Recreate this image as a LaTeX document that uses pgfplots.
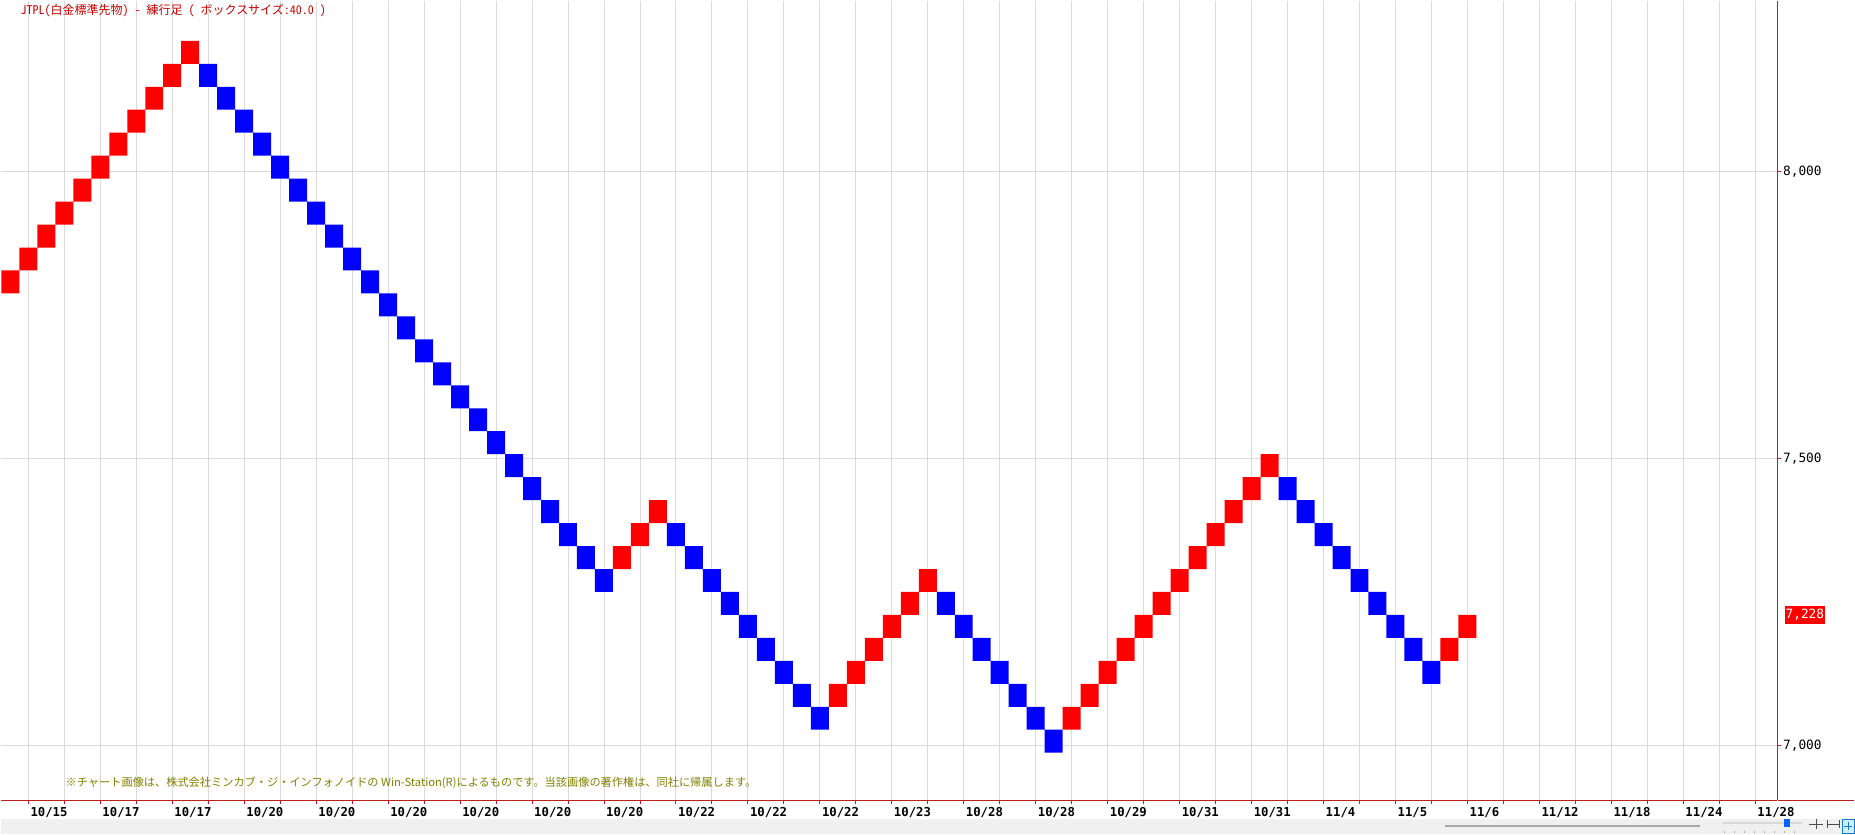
\documentclass[border=0pt]{standalone}
\usepackage{fontspec}
\usepackage{pgfplots}
\pgfplotsset{compat=1.18}
\usepackage{pgfplotstable}
\newfontfamily\jp{Noto Sans CJK JP}
\newfontfamily\jphw[RawFeature=+hwid]{Noto Sans CJK JP}
\newfontfamily\mono{DejaVu Sans Mono}
\definecolor{boxred}{RGB}{255,0,0}
\definecolor{boxblue}{RGB}{0,0,255}
\definecolor{axisred}{RGB}{190,30,30}
\definecolor{titlered}{RGB}{200,0,0}
\definecolor{noteolive}{RGB}{128,128,0}
\definecolor{gridgray}{RGB}{218,218,218}
\definecolor{bandgray}{RGB}{240,240,240}

% renko boxes: column, box low, height if up (red), height if down (blue); box size 40
\pgfplotstableread{
x low up dn
0 7788 40 0
1 7828 40 0
2 7868 40 0
3 7908 40 0
4 7948 40 0
5 7988 40 0
6 8028 40 0
7 8068 40 0
8 8108 40 0
9 8148 40 0
10 8188 40 0
11 8148 0 40
12 8108 0 40
13 8068 0 40
14 8028 0 40
15 7988 0 40
16 7948 0 40
17 7908 0 40
18 7868 0 40
19 7828 0 40
20 7788 0 40
21 7748 0 40
22 7708 0 40
23 7668 0 40
24 7628 0 40
25 7588 0 40
26 7548 0 40
27 7508 0 40
28 7468 0 40
29 7428 0 40
30 7388 0 40
31 7348 0 40
32 7308 0 40
33 7268 0 40
34 7308 40 0
35 7348 40 0
36 7388 40 0
37 7348 0 40
38 7308 0 40
39 7268 0 40
40 7228 0 40
41 7188 0 40
42 7148 0 40
43 7108 0 40
44 7068 0 40
45 7028 0 40
46 7068 40 0
47 7108 40 0
48 7148 40 0
49 7188 40 0
50 7228 40 0
51 7268 40 0
52 7228 0 40
53 7188 0 40
54 7148 0 40
55 7108 0 40
56 7068 0 40
57 7028 0 40
58 6988 0 40
59 7028 40 0
60 7068 40 0
61 7108 40 0
62 7148 40 0
63 7188 40 0
64 7228 40 0
65 7268 40 0
66 7308 40 0
67 7348 40 0
68 7388 40 0
69 7428 40 0
70 7468 40 0
71 7428 0 40
72 7388 0 40
73 7348 0 40
74 7308 0 40
75 7268 0 40
76 7228 0 40
77 7188 0 40
78 7148 0 40
79 7108 0 40
80 7148 40 0
81 7188 40 0
}\renko

\begin{document}
\begin{tikzpicture}[x=1pt,y=1pt]
% page background and bottom status band
\fill[white] (0,-34) rectangle (1855,800);
\fill[bandgray] (0,-34) rectangle (1855,-19);
\draw[gray!70, line width=1.2pt] (1445,-26) -- (1700,-26);
\draw[gray!30, line width=2pt] (1722,-23) -- (1802,-23);
\fill[blue!60!cyan] (1784,-27) rectangle (1790,-19);
\foreach \t in {1725,1735,...,1800} \draw[gray!60] (\t,-31) -- (\t,-33);
\draw[black!70] (1810,-24) -- (1824,-24) (1817,-19) -- (1817,-29);
\draw[black!70] (1828,-24) -- (1840,-24) (1828,-20) -- (1828,-28) (1840,-20) -- (1840,-28);
\fill[cyan!20] (1843,-33) rectangle (1855,-19);
\draw[cyan!60!blue] (1843,-33) rectangle (1855,-19) (1845,-26) -- (1853,-26) (1849,-22) -- (1849,-30);

\begin{axis}[
  at={(0,0)}, anchor=south west,
  width=1778pt, height=800pt, scale only axis,
  xmin=-0.5444, xmax=98.2333,
  ymin=6905.5, ymax=8298.2,
  ybar stacked, bar width=1,
  axis x line*=bottom, axis y line*=right,
  axis line style={-, axisred, line width=1.1pt},
  xtick pos=left, ytick pos=right, yticklabel pos=right,
  tick align=outside,
  major tick length=3.5pt, minor tick length=3.5pt,
  tick style={axisred, line width=0.9pt},
  xtick={1,5,...,97},
  minor xtick={3,7,...,95},
  xticklabels={10/15,10/17,10/17,10/20,10/20,10/20,10/20,10/20,10/20,10/22,10/22,10/22,10/23,10/28,10/28,10/29,10/31,10/31,11/4,11/5,11/6,11/12,11/18,11/24,11/28},
  xticklabel style={font=\mono\bfseries\fontsize{12.3}{13}\selectfont, anchor=north west, inner xsep=0pt, inner ysep=0pt, xshift=2pt, yshift=-3.5pt},
  ytick={7000,7500,8000},
  yticklabels={{7,000},{7,500},{8,000}},
  yticklabel style={font=\mono\fontsize{12.8}{13}\selectfont, anchor=west, inner xsep=0pt, xshift=2pt},
  extra y ticks={7228},
  extra y tick labels={7{,}228},
  extra y tick style={grid=none, major tick length=0pt,
    yticklabel style={fill=boxred, text=white, inner xsep=0.5pt, inner ysep=3.3pt, xshift=5.5pt}},
  xmajorgrids, xminorgrids, ymajorgrids,
  major grid style={gridgray, line width=0.9pt},
  minor grid style={gridgray, line width=0.9pt},
]
\addplot[draw=none, fill=none] table[x=x, y=low] {\renko};
\addplot[draw=none, fill=boxred] table[x=x, y=up] {\renko};
\addplot[draw=none, fill=boxblue] table[x=x, y=dn] {\renko};
\end{axis}

\draw[axisred, line width=1.1pt] (1778,0) -- (1855,0);
\node[anchor=west, inner sep=0pt, text=titlered, font=\jphw\fontsize{12}{13}\selectfont] at (20,790) {JTPL(白金標準先物) - 練行足 ( ボックスサイズ:40.0 )};
\node[anchor=west, inner sep=0pt, text=noteolive, font=\jp\fontsize{11.2}{12}\selectfont] at (65,17) {※チャート画像は、株式会社ミンカブ・ジ・インフォノイドの Win-Station(R)によるものです。当該画像の著作権は、同社に帰属します。};
\end{tikzpicture}
\end{document}
